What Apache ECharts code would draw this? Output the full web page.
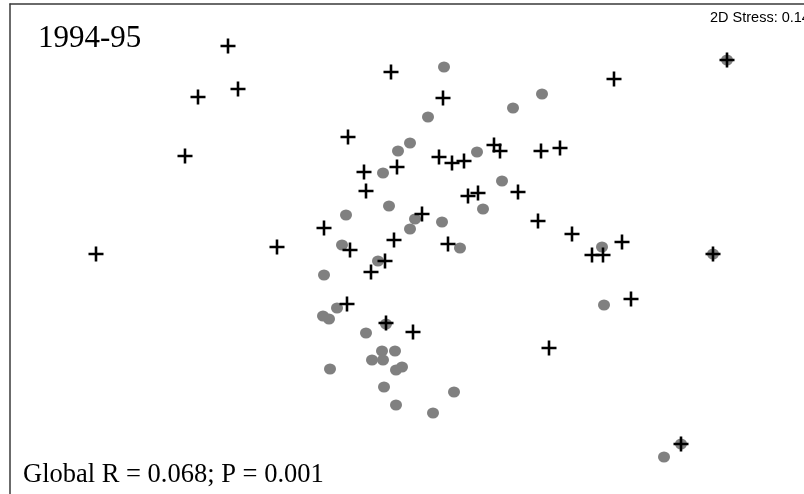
<!DOCTYPE html>
<html>
<head>
<meta charset="utf-8">
<script src="https://cdn.jsdelivr.net/npm/echarts@6/dist/echarts.min.js"></script>
<style>html,body{margin:0;padding:0;background:#fff;}#c{width:804px;height:494px;}</style>
</head>
<body>
<div id="c"></div>
<script>
// NMDS ordination coordinates
var crossPoints = [
  [-1.72, 2.04], [-1.62, 1.61], [-2.02, 1.53], [-2.15, 0.94], [-3.04, -0.04],
  [-1.23, 0.03], [-0.09, 1.78], [0.43, 1.52], [-0.52, 1.13], [2.14, 1.71],
  [3.27, 1.90], [0.39, 0.93], [0.52, 0.87], [0.64, 0.89], [0.94, 1.05],
  [1.00, 0.99], [1.41, 0.99], [1.60, 1.02], [-0.36, 0.78], [-0.03, 0.83],
  [-0.34, 0.59], [0.68, 0.54], [0.78, 0.57], [1.18, 0.58], [0.22, 0.36],
  [-0.76, 0.22], [1.38, 0.29], [1.72, 0.16], [-0.06, 0.10], [-0.50, 0.00],
  [0.48, 0.06], [-0.15, -0.11], [-0.29, -0.22], [1.92, -0.05], [2.03, -0.05],
  [2.22, 0.08], [3.13, -0.04], [2.31, -0.49], [-0.53, -0.54], [-0.14, -0.73],
  [0.13, -0.82], [1.49, -0.98], [2.81, -1.94]
];
var dotPoints = [
  [0.44, 1.83], [1.13, 1.42], [1.42, 1.56], [0.28, 1.33], [0.10, 1.07],
  [-0.02, 0.99], [0.77, 0.98], [-0.17, 0.77], [1.02, 0.69], [-0.11, 0.44],
  [0.83, 0.41], [-0.54, 0.35], [0.15, 0.31], [0.10, 0.21], [0.42, 0.28],
  [-0.58, 0.05], [0.60, 0.02], [-0.22, -0.11], [2.02, 0.03], [2.04, -0.55],
  [3.27, 1.90], [3.13, -0.04], [-0.76, -0.25], [-0.63, -0.58], [-0.77, -0.66],
  [-0.71, -0.69], [-0.14, -0.74], [-0.34, -0.83], [-0.18, -1.01], [-0.05, -1.01],
  [-0.28, -1.10], [-0.17, -1.10], [0.02, -1.17], [-0.04, -1.20], [-0.70, -1.19],
  [-0.16, -1.37], [0.54, -1.42], [-0.04, -1.55], [0.33, -1.63], [2.81, -1.94],
  [2.64, -2.07]
];
var titleText = '1994-95';
var statText = 'Global R = 0.068; P = 0.001';
var stressText = '2D Stress: 0.14';

var chart = echarts.init(document.getElementById('c'), null, {renderer: 'canvas'});
var crossPath = 'path://M5.8,0H8.2V5.8H14V8.2H8.2V14H5.8V8.2H0V5.8H5.8Z';
chart.setOption({
  animation: false,
  backgroundColor: '#ffffff',
  grid: {left: 10, top: 4, right: 0, bottom: 0, containLabel: false},
  xAxis: {
    type: 'value', min: -3.90, max: 4.04, position: 'top',
    axisLine: {show: true, onZero: false, lineStyle: {color: '#3a3a3a', width: 1.5}},
    axisTick: {show: false}, axisLabel: {show: false}, splitLine: {show: false}
  },
  yAxis: {
    type: 'value', min: -2.44, max: 2.46, position: 'left',
    axisLine: {show: true, onZero: false, lineStyle: {color: '#3a3a3a', width: 1.5}},
    axisTick: {show: false}, axisLabel: {show: false}, splitLine: {show: false}
  },
  series: [
    {
      type: 'scatter', data: dotPoints, symbol: 'circle', symbolSize: [12, 11],
      itemStyle: {color: '#808080', opacity: 1}, z: 2
    },
    {
      type: 'scatter', data: crossPoints, symbol: crossPath, symbolSize: 15,
      itemStyle: {color: '#000000', opacity: 1}, z: 3
    }
  ],
  graphic: [
    {type: 'text', left: 38, top: 23, z: 10,
     style: {text: titleText, fontFamily: '"Liberation Serif", "Times New Roman", serif', fontSize: 31, fill: '#000'}},
    {type: 'text', left: 23, top: 462, z: 10,
     style: {text: statText, fontFamily: '"Liberation Serif", "Times New Roman", serif', fontSize: 26.5, fill: '#000'}},
    {type: 'text', left: 710, top: 10, z: 10,
     style: {text: stressText, fontFamily: '"Liberation Sans", Arial, sans-serif', fontSize: 14.5, fill: '#000'}}
  ]
});
</script>
</body>
</html>
